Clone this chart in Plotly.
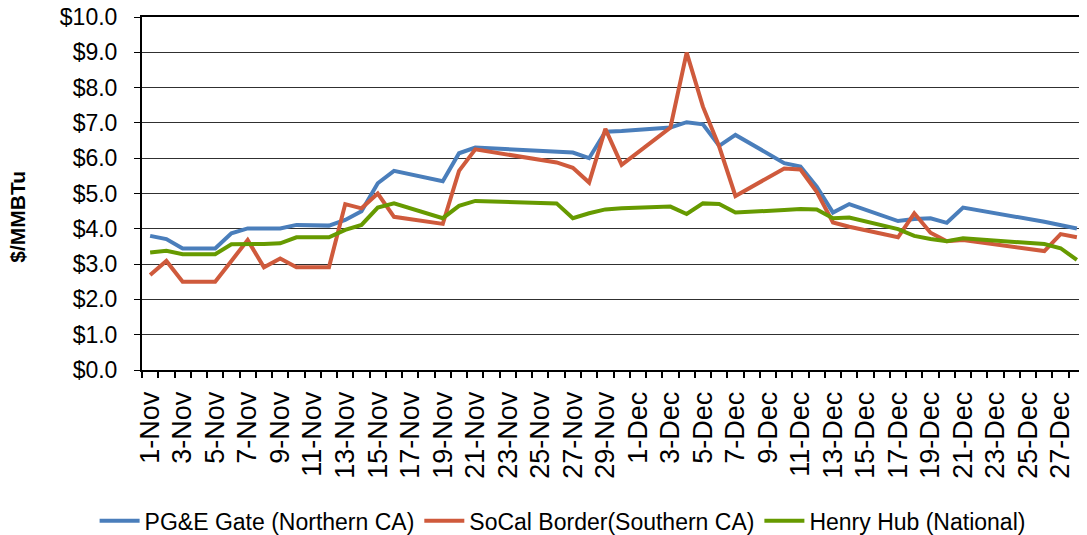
import plotly.graph_objects as go

dates = ["2012-11-01", "2012-11-02", "2012-11-03", "2012-11-05", "2012-11-06", "2012-11-07",
         "2012-11-08", "2012-11-09", "2012-11-10", "2012-11-12", "2012-11-13", "2012-11-14",
         "2012-11-15", "2012-11-16", "2012-11-19", "2012-11-20", "2012-11-21", "2012-11-26",
         "2012-11-27", "2012-11-28", "2012-11-29", "2012-11-30", "2012-12-03", "2012-12-04",
         "2012-12-05", "2012-12-06", "2012-12-07", "2012-12-10", "2012-12-11", "2012-12-12",
         "2012-12-13", "2012-12-14", "2012-12-17", "2012-12-18", "2012-12-19", "2012-12-20",
         "2012-12-21", "2012-12-26", "2012-12-27", "2012-12-28"]

pge_gate = [3.80, 3.71, 3.44, 3.44, 3.87, 4.01, 4.01, 4.01, 4.11, 4.09, 4.25, 4.50,
            5.29, 5.64, 5.35, 6.14, 6.30, 6.17, 6.16, 6.00, 6.75, 6.77, 6.87, 7.02,
            6.96, 6.35, 6.66, 5.86, 5.76, 5.19, 4.46, 4.70, 4.22, 4.28, 4.30, 4.17,
            4.60, 4.20, 4.10, 4.01]

socal_border = [2.69, 3.09, 2.50, 2.50, 3.09, 3.68, 2.91, 3.16, 2.91, 2.91, 4.70, 4.58,
                5.00, 4.34, 4.14, 5.64, 6.25, 5.88, 5.73, 5.31, 6.83, 5.81, 6.87, 8.99,
                7.46, 6.33, 4.93, 5.71, 5.68, 5.05, 4.18, 4.06, 3.76, 4.44, 3.89, 3.65,
                3.68, 3.37, 3.85, 3.76]

henry_hub = [3.33, 3.38, 3.28, 3.28, 3.56, 3.56, 3.57, 3.59, 3.76, 3.76, 3.97, 4.11,
             4.60, 4.72, 4.30, 4.65, 4.79, 4.72, 4.30, 4.44, 4.55, 4.58, 4.63, 4.42,
             4.72, 4.70, 4.46, 4.53, 4.56, 4.55, 4.30, 4.32, 3.99, 3.80, 3.71, 3.65,
             3.73, 3.57, 3.45, 3.12]

series_names = ["PG&E Gate (Northern CA)", "SoCal Border(Southern CA)", "Henry Hub (National)"]
series_colors = ["#4a7ebb", "#cf5a3c", "#669a00"]

FONT = "Liberation Sans, Arial, sans-serif"

fig = go.Figure()
for name, vals, col in zip(series_names, [pge_gate, socal_border, henry_hub], series_colors):
    fig.add_trace(go.Scatter(x=dates, y=vals, mode="lines", name=name,
                             line=dict(color=col, width=4)))

# page body has an 8px default margin, so the figure is sized to the visible area
fig.update_layout(
    width=1079, height=527,
    margin=dict(l=134, r=2, t=9, b=165, autoexpand=False),
    paper_bgcolor="white", plot_bgcolor="white",
    font=dict(family=FONT, color="black", size=22),
    showlegend=True,
    legend=dict(orientation="h", xref="container", yref="container",
                x=0.514, xanchor="center", y=0.027, yanchor="middle",
                font=dict(family=FONT, size=23, color="black"), bgcolor="rgba(0,0,0,0)",
                itemwidth=40),
    annotations=[dict(text="<b>$/MMBTu</b>", textangle=-90, xref="paper", yref="paper",
                      x=-0.1322, y=0.435, xanchor="center", yanchor="middle", showarrow=False,
                      font=dict(family=FONT, size=21, color="black"))],
)

fig.update_xaxes(
    type="date", automargin=False,
    range=["2012-10-31 12:00", "2012-12-28 12:00"],
    tickmode="linear", tick0="2012-11-01", dtick=2 * 86400000,
    tickformat="%-d-%b", tickangle=-90,
    tickfont=dict(family=FONT, size=27, color="black"),
    ticks="", showgrid=False,
    showline=True, linecolor="black", linewidth=2, mirror=True,
    minor=dict(ticks="outside", tick0="2012-10-31 12:00", dtick=86400000,
               ticklen=6, tickcolor="black", tickwidth=1.5, showgrid=False),
    ticklabelstandoff=9, ticklabeloverflow="allow",
)

fig.update_yaxes(
    automargin=False,
    range=[0, 10], dtick=1, tick0=0,
    tickprefix="$", tickformat=".1f",
    tickfont=dict(family=FONT, size=23, color="black"),
    showgrid=True, gridcolor="#303030", gridwidth=1.3,
    showline=True, linecolor="black", linewidth=2, mirror=True,
    ticks="outside", ticklen=6, tickcolor="black",
    ticklabelstandoff=12, ticklabeloverflow="allow",
    zeroline=False,
)

fig.write_html("out.html")
